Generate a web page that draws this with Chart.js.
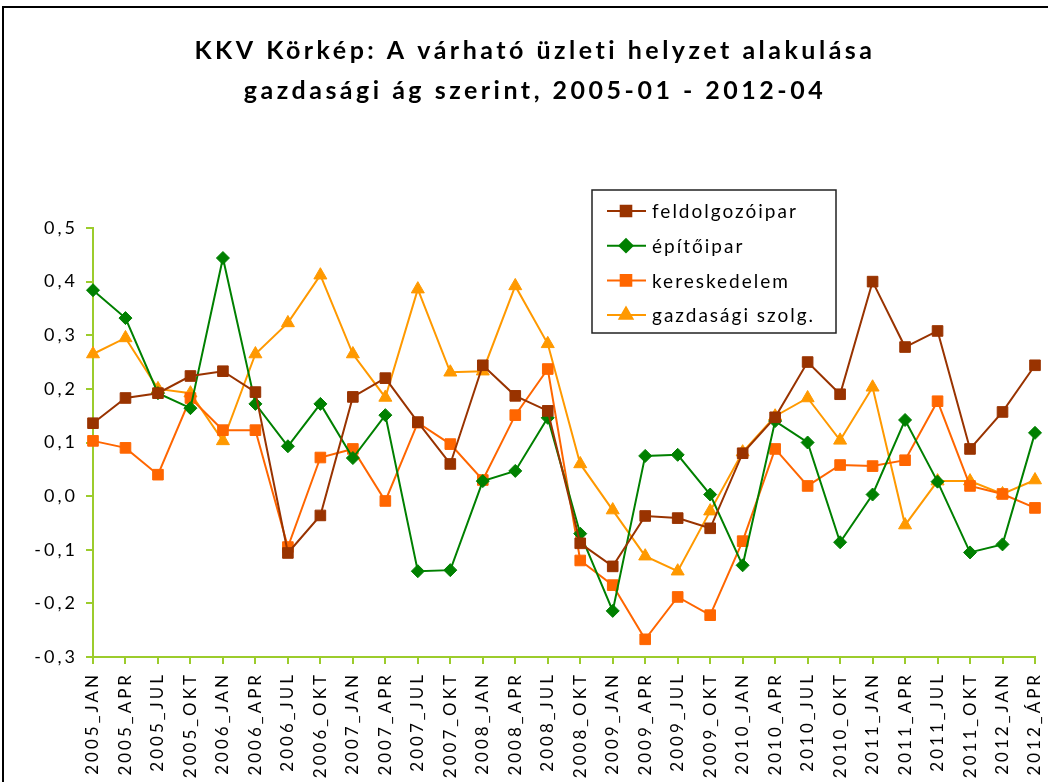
<!DOCTYPE html>
<html>
<head>
<meta charset="utf-8">
<script src="https://cdn.jsdelivr.net/npm/chart.js@4"></script>
<style>
  html, body { margin: 0; padding: 0; background: #fff; }
  #wrap { position: relative; width: 1048px; height: 782px; }
</style>
</head>
<body>
<div id="wrap"><canvas id="kkvChart" width="1048" height="782"></canvas></div>
<script>
// Negyedéves címkék
const categories = [
  '2005_JAN', '2005_APR', '2005_JUL', '2005_OKT',
  '2006_JAN', '2006_APR', '2006_JUL', '2006_OKT',
  '2007_JAN', '2007_APR', '2007_JUL', '2007_OKT',
  '2008_JAN', '2008_APR', '2008_JUL', '2008_OKT',
  '2009_JAN', '2009_APR', '2009_JUL', '2009_OKT',
  '2010_JAN', '2010_APR', '2010_JUL', '2010_OKT',
  '2011_JAN', '2011_APR', '2011_JUL', '2011_OKT',
  '2012_JAN', '2012_ÁPR'
];

const feldolgozoipar = [0.136, 0.183, 0.192, 0.224, 0.233, 0.194, -0.106, -0.036, 0.185, 0.220,
  0.138, 0.060, 0.244, 0.187, 0.159, -0.088, -0.131, -0.037, -0.041, -0.060,
  0.080, 0.147, 0.250, 0.190, 0.400, 0.278, 0.308, 0.088, 0.157, 0.244];

const epitoipar = [0.384, 0.332, 0.192, 0.164, 0.444, 0.172, 0.093, 0.172, 0.071, 0.151,
  -0.140, -0.138, 0.028, 0.047, 0.146, -0.070, -0.214, 0.075, 0.077, 0.003,
  -0.129, 0.140, 0.100, -0.086, 0.003, 0.142, 0.027, -0.105, -0.090, 0.118];

const kereskedelem = [0.103, 0.090, 0.040, 0.183, 0.123, 0.123, -0.095, 0.072, 0.088, -0.009,
  0.137, 0.097, 0.030, 0.151, 0.237, -0.120, -0.166, -0.267, -0.188, -0.222,
  -0.084, 0.088, 0.019, 0.058, 0.056, 0.067, 0.177, 0.019, 0.004, -0.022];

const gazdSzolg = [0.265, 0.295, 0.200, 0.192, 0.103, 0.265, 0.323, 0.412, 0.265, 0.184,
  0.386, 0.231, 0.233, 0.392, 0.284, 0.060, -0.026, -0.112, -0.140, -0.028,
  0.082, 0.149, 0.183, 0.104, 0.203, -0.054, 0.028, 0.028, 0.004, 0.030];

const seriesNames = ['feldolgozóipar', 'építőipar', 'kereskedelem', 'gazdasági szolg.'];
const yTicks = [-0.3, -0.2, -0.1, 0.0, 0.1, 0.2, 0.3, 0.4, 0.5];
const titleLines = ['KKV Körkép: A várható üzleti helyzet alakulása', 'gazdasági ág szerint, 2005-01 - 2012-04'];

const axisColor = '#9ccc2c';
const fontFam = 'Lato, "Open Sans", sans-serif';

function ds(label, data, color, style, radius) {
  return {
    label: label,
    data: data,
    borderColor: color,
    backgroundColor: color,
    borderWidth: 2,
    pointStyle: style,
    pointRadius: radius,
    pointHoverRadius: radius,
    pointBorderWidth: 1,
    tension: 0
  };
}

// Keret, cím és jelmagyarázat rajzolása
const decorPlugin = {
  id: 'decor',
  beforeLayout(chart) { chart.ctx.letterSpacing = '3px'; },
  beforeDraw(chart) {
    const ctx = chart.ctx;
    ctx.save();
    ctx.fillStyle = '#fff';
    ctx.fillRect(0, 0, chart.width, chart.height);
    ctx.strokeStyle = '#000';
    ctx.lineWidth = 2;
    ctx.beginPath();
    ctx.moveTo(3, chart.height + 5);
    ctx.lineTo(3, 7);
    ctx.lineTo(chart.width + 5, 7);
    ctx.stroke();
    ctx.restore();
    ctx.letterSpacing = '3px';
  },
  afterDraw(chart) {
    const ctx = chart.ctx;
    ctx.save();
    // cím
    ctx.letterSpacing = '3.5px';
    ctx.fillStyle = '#000';
    ctx.font = 'bold 25px ' + fontFam;
    ctx.textAlign = 'center';
    ctx.textBaseline = 'middle';
    ctx.fillText(titleLines[0], 535, 51);
    ctx.fillText(titleLines[1], 535, 91);

    // jelmagyarázat
    ctx.letterSpacing = '2px';
    ctx.lineWidth = 1.5;
    ctx.strokeStyle = '#222';
    ctx.strokeRect(592, 190, 244, 143);
    ctx.font = '19px ' + fontFam;
    ctx.textAlign = 'left';
    chart.data.datasets.forEach((d, i) => {
      const y = 211 + i * 34.7;
      ctx.strokeStyle = d.borderColor;
      ctx.lineWidth = 2;
      ctx.beginPath();
      ctx.moveTo(607, y);
      ctx.lineTo(646, y);
      ctx.stroke();
      ctx.fillStyle = d.backgroundColor;
      Chart.helpers.drawPoint(ctx, { pointStyle: d.pointStyle, radius: d.pointRadius, borderWidth: 1, rotation: 0 }, 626, y);
      ctx.fill();
      ctx.fillStyle = '#000';
      ctx.fillText(d.label, 652, y + 1);
    });
    ctx.restore();
    ctx.letterSpacing = '0px';
  }
};

const ctx = document.getElementById('kkvChart').getContext('2d');

const kkvChart = new Chart(ctx, {
  type: 'line',
  data: {
    labels: categories,
    datasets: [
      ds(seriesNames[0], feldolgozoipar, '#993300', 'rect', 7.5),
      ds(seriesNames[1], epitoipar, '#008000', 'rectRot', 6.5),
      ds(seriesNames[2], kereskedelem, '#ff6600', 'rect', 7.5),
      ds(seriesNames[3], gazdSzolg, '#ff9900', 'triangle', 7.5)
    ]
  },
  options: {
    responsive: false,
    animation: false,
    devicePixelRatio: 1,
    layout: { padding: { top: 228, right: 13, bottom: 0, left: 0 } },
    plugins: {
      legend: { display: false },
      title: { display: false },
      tooltip: { enabled: false }
    },
    scales: {
      x: {
        offset: false,
        grid: { drawOnChartArea: false, drawTicks: true, tickLength: 7, color: axisColor, lineWidth: 2 },
        border: { display: true, color: axisColor, width: 2 },
        ticks: {
          autoSkip: false,
          maxRotation: 90,
          minRotation: 90,
          padding: 8,
          color: '#000',
          font: { family: fontFam, size: 17 }
        },
        afterFit(scale) {
          scale.height = 125;
          scale.paddingLeft = 0;
          scale.paddingRight = 0;
        }
      },
      y: {
        min: -0.3,
        max: 0.5,
        afterBuildTicks(scale) { scale.ticks = yTicks.map(v => ({ value: v })); },
        grid: { drawOnChartArea: false, drawTicks: true, tickLength: 7, color: axisColor, lineWidth: 2 },
        border: { display: true, color: axisColor, width: 2 },
        ticks: {
          padding: 8,
          color: '#000',
          font: { family: fontFam, size: 18 },
          callback: v => v.toFixed(1).replace('.', ',')
        },
        afterFit(scale) { scale.width = 93; }
      }
    }
  },
  plugins: [decorPlugin]
});
</script>
</body>
</html>
